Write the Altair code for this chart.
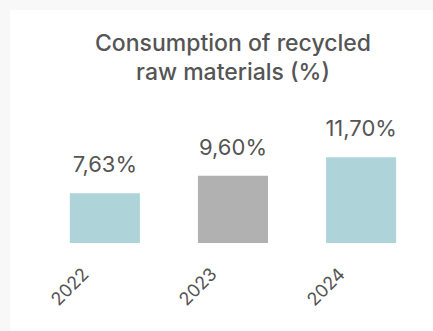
import altair as alt
import pandas as pd

years = ["2022", "2023", "2024"]
values = [7.63, 9.60, 11.70]
labels = ["7,63%", "9,60%", "11,70%"]
colors = ["#aed4da", "#b1b1b1", "#aed4da"]

df = pd.DataFrame({"year": years, "value": values, "label": labels, "color": colors})

FONT = "Inter"
TXT = "#555555"

x = alt.X("year:N", sort=years, title=None,
          scale=alt.Scale(paddingInner=0.453, paddingOuter=0.1),
          axis=alt.Axis(labelAngle=-45, labelFontSize=18, labelColor=TXT, labelFont=FONT,
                        domain=False, ticks=False, labelPadding=22, labelOffset=-25, zindex=1))
y = alt.Y("value:Q", title=None, scale=alt.Scale(domain=[2, 14], zero=False, nice=False),
          axis=None)

panel = alt.Chart(df).mark_rect(color="white").encode(
    x=alt.value(-47), x2=alt.value(400), y=alt.value(-127), y2=alt.value(220)
)

bars = alt.Chart(df).mark_bar().encode(
    x=x, y=y, y2=alt.datum(2), color=alt.Color("color:N", scale=None)
)
text = alt.Chart(df).mark_text(dy=-21, baseline="alphabetic", fontSize=22, color=TXT, font=FONT).encode(
    x=alt.X("year:N", sort=years), y=y, text="label:N"
)

chart = alt.layer(panel, bars, text).properties(
    width=352, height=106,
    autosize=alt.AutoSizeParams(type="none"),
    padding={"left": 57, "right": 24, "top": 137, "bottom": 88},
    background="#f8f8f8",
    title=alt.TitleParams(["Consumption of recycled", "raw materials (%)"], fontSize=23,
                          font=FONT, fontWeight=500, color=TXT, anchor="middle",
                          lineHeight=29, offset=-75),
).configure_view(stroke=None)

chart.save("out.html", embed_options={"renderer": "svg", "actions": False})
